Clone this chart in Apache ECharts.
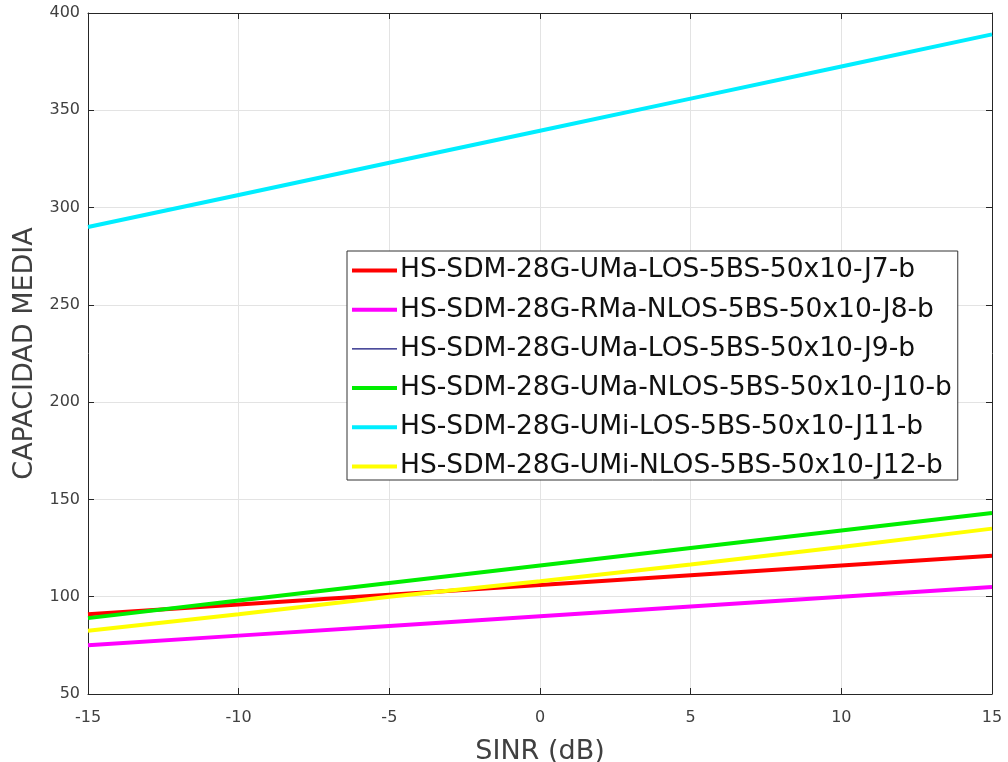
<!DOCTYPE html>
<html>
<head>
<meta charset="utf-8">
<script src="https://cdn.jsdelivr.net/npm/echarts@6/dist/echarts.min.js"></script>
<style>html,body{margin:0;padding:0;background:#fff;}#c{width:1008px;height:762px;}</style>
</head>
<body>
<div id="c"></div>
<script>
const sinr = [-15, -10, -5, 0, 5, 10, 15];
const xTicks = [-15, -10, -5, 0, 5, 10, 15];
const yTicks = [50, 100, 150, 200, 250, 300, 350, 400];
const seriesNames = [
  'HS-SDM-28G-UMa-LOS-5BS-50x10-J7-b',
  'HS-SDM-28G-RMa-NLOS-5BS-50x10-J8-b',
  'HS-SDM-28G-UMa-LOS-5BS-50x10-J9-b',
  'HS-SDM-28G-UMa-NLOS-5BS-50x10-J10-b',
  'HS-SDM-28G-UMi-LOS-5BS-50x10-J11-b',
  'HS-SDM-28G-UMi-NLOS-5BS-50x10-J12-b'
];
const j7  = [91, 96, 101, 106, 111, 116, 121];
const j8  = [75, 80, 85, 90, 95, 100, 105];
const j9  = [91, 96, 101, 106, 111, 116, 121];
const j10 = [89, 98, 107, 116, 125, 134, 143];
const j11 = [290, 306.5, 323, 339.5, 356, 372.5, 389];
const j12 = [82.5, 91, 100, 108, 116.5, 125.5, 135];

const seriesData = [j7, j8, j9, j10, j11, j12];
const colors = ['#ff0000', '#ff00ff', '#10107a', '#00ee00', '#00eeff', '#ffff00'];
const widths = [4, 4, 1.2, 4, 4, 4];
const zs = [3, 3, 1, 3, 3, 3];

const chart = echarts.init(document.getElementById('c'), null, {renderer: 'canvas'});
const axisColor = '#262626';
const labelColor = '#404040';
const font = '"DejaVu Sans", sans-serif';

const series = seriesNames.map((n, i) => ({
  name: n,
  type: 'line',
  data: sinr.map((x, k) => [x, seriesData[i][k]]),
  showSymbol: false,
  symbol: 'none',
  lineStyle: {color: colors[i], width: widths[i]},
  itemStyle: {color: colors[i]},
  z: zs[i],
  xAxisIndex: 0,
  yAxisIndex: 0,
  animation: false
}));

chart.setOption({
  animation: false,
  backgroundColor: '#fff',
  grid: {left: 88, right: 16, top: 13, bottom: 68, outerBoundsMode: 'none', containLabel: false},
  legend: {
    orient: 'vertical',
    left: 347,
    top: 251,
    data: seriesNames.map((n, i) => ({name: n, lineStyle: {width: widths[i], color: colors[i], opacity: 1}})),
    itemWidth: 45,
    itemHeight: 14,
    itemGap: 12.2,
    padding: [6, 6, 0, 3],
    borderColor: '#333',
    borderWidth: 1,
    backgroundColor: '#fff',
    itemStyle: {opacity: 0},
    textStyle: {fontSize: 26.5, color: '#111', fontFamily: font, padding: [0, 0, 0, -2]},
    selectedMode: false
  },
  xAxis: [{
    type: 'value', min: -15, max: 15, interval: 5,
    name: 'SINR (dB)', nameLocation: 'middle', nameGap: 44,
    nameTextStyle: {fontSize: 27, color: labelColor, fontFamily: font},
    axisLine: {show: true, onZero: false, lineStyle: {color: axisColor, width: 1}},
    axisTick: {show: true, inside: true, length: 6, lineStyle: {color: axisColor}},
    axisLabel: {fontSize: 16, color: labelColor, fontFamily: font, margin: 16,
      formatter: v => xTicks.includes(v) ? String(v) : ''},
    splitLine: {show: true, lineStyle: {color: '#e3e3e3', width: 1}}
  }, {
    type: 'value', min: -15, max: 15, interval: 5, position: 'top',
    axisLine: {show: true, onZero: false, lineStyle: {color: axisColor, width: 1}},
    axisTick: {show: true, inside: true, length: 6, lineStyle: {color: axisColor}},
    axisLabel: {show: false}, splitLine: {show: false}
  }],
  yAxis: [{
    type: 'value', min: 50, max: 400, interval: 50,
    name: 'CAPACIDAD MEDIA', nameLocation: 'middle', nameGap: 48,
    nameTextStyle: {fontSize: 27, color: labelColor, fontFamily: font},
    axisLine: {show: true, onZero: false, lineStyle: {color: axisColor, width: 1}},
    axisTick: {show: true, inside: true, length: 6, lineStyle: {color: axisColor}},
    axisLabel: {fontSize: 16, color: labelColor, fontFamily: font, margin: 8,
      formatter: v => yTicks.includes(v) ? String(v) : ''},
    splitLine: {show: true, lineStyle: {color: '#e3e3e3', width: 1}}
  }, {
    type: 'value', min: 50, max: 400, interval: 50, position: 'right',
    axisLine: {show: true, onZero: false, lineStyle: {color: axisColor, width: 1}},
    axisTick: {show: true, inside: true, length: 6, lineStyle: {color: axisColor}},
    axisLabel: {show: false}, splitLine: {show: false}
  }],
  series: series
});
</script>
</body>
</html>
